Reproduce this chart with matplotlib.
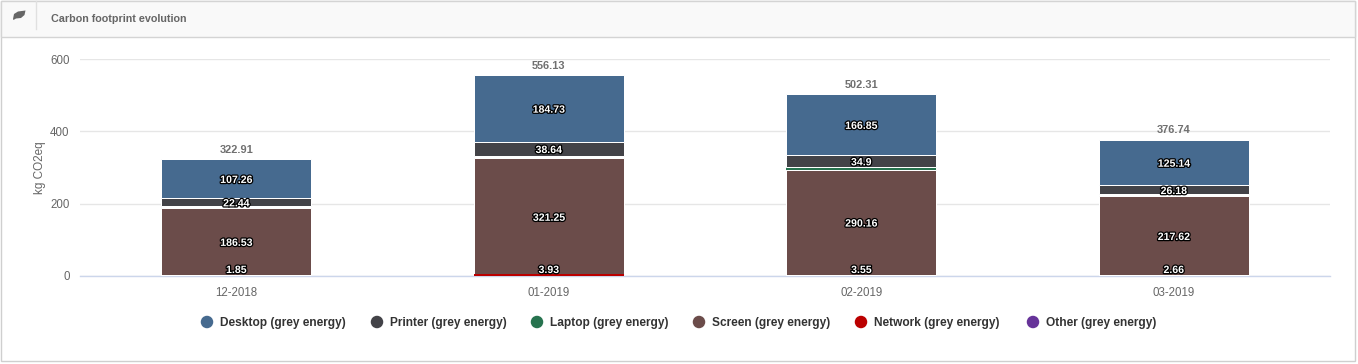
import matplotlib
matplotlib.use("Agg")
import matplotlib.patheffects as pe
import matplotlib.pyplot as plt
import numpy as np
from matplotlib.patches import Ellipse, Polygon, Rectangle

W, H = 1358, 364

months = ["12-2018", "01-2019", "02-2019", "03-2019"]
network = [1.85, 3.93, 3.55, 2.66]
screen = [186.53, 321.25, 290.16, 217.62]
laptop = [4.83, 7.58, 6.85, 5.14]
printer = [22.44, 38.64, 34.9, 26.18]
desktop = [107.26, 184.73, 166.85, 125.14]
totals = [322.91, 556.13, 502.31, 376.74]
legend_names = ["Desktop (grey energy)", "Printer (grey energy)", "Laptop (grey energy)",
                "Screen (grey energy)", "Network (grey energy)", "Other (grey energy)"]
legend_colors = ["#466a8f", "#434348", "#27734f", "#6b4c4a", "#bb0000", "#663399"]
legend_dot_x = [207, 377, 537, 699, 861, 1033]

plt.rcParams["font.family"] = ["Liberation Sans", "DejaVu Sans"]

fig = plt.figure(figsize=(W / 100, H / 100), dpi=100, facecolor="white")


def fx(px):
    return px / W


def fy(py):
    return 1 - py / H


# panel frame and header
fig.add_artist(Rectangle((fx(1), fy(361)), fx(1354), 360 / H, transform=fig.transFigure,
                         facecolor="white", edgecolor="#cfcfcf", linewidth=1, zorder=-3))
fig.add_artist(Rectangle((fx(1), fy(36.5)), fx(1354), 35.5 / H, transform=fig.transFigure,
                         facecolor="#f9f9f9", edgecolor="#d4d4d4", linewidth=1, zorder=-2))
fig.add_artist(plt.Line2D([fx(35.5), fx(35.5)], [fy(1), fy(29)], color="#e0e0e0", linewidth=1))
leaf = [(13, 19), (14, 14), (18, 11.5), (25.5, 10.5), (24.5, 15), (21, 18), (16, 18.5), (13.5, 20)]
fig.add_artist(Polygon([(fx(a), fy(b)) for a, b in leaf], closed=True, transform=fig.transFigure,
                       facecolor="#666666", edgecolor="none"))
fig.text(fx(51.5), fy(18.5), "Carbon footprint evolution", fontsize=7.75, fontweight="bold",
         color="#666666", va="center", ha="left")

# plot area: y=0 just above 276 px, y=600 at 59 px
ax = fig.add_axes([fx(80), fy(275.8), fx(1250), 216.8 / H])
ax.set_xlim(-0.5, 3.5)
ax.set_ylim(0, 600)
ax.patch.set_alpha(0)
ax.set_yticks([0, 200, 400, 600])
ax.set_xticks(np.arange(4))
ax.set_xticklabels(months)
ax.tick_params(axis="both", length=0, labelsize=8.3, labelcolor="#666666")
ax.tick_params(axis="x", pad=8)
ax.tick_params(axis="y", pad=7.5)
ax.grid(axis="y", color="#e6e6e6", linewidth=1)
ax.set_axisbelow(True)
for s in ["top", "left", "right"]:
    ax.spines[s].set_visible(False)
ax.spines["bottom"].set_color("#ccd6eb")
ax.spines["bottom"].set_linewidth(1)
ax.set_ylabel("kg CO2eq", fontsize=8.5, color="#666666", labelpad=3)

x = np.arange(4)
bar_w = 150 / (1250 / 4)
# thin segments collapse into their white borders in the reference
series = [(network, ["white", "#bb0000", "white", "white"], 0, 3.5),
          (screen, ["#6b4c4a"] * 4, 0.72, 3),
          (laptop, ["white", "white", "#27734f", "white"], 0, 3),
          (printer, ["#434348"] * 4, 0.72, 3),
          (desktop, ["#466a8f"] * 4, 0.72, 3)]
halo = [pe.withStroke(linewidth=1.8, foreground="black")]
bottom = np.zeros(4)
for vals, colors, lw, z in series:
    ax.bar(x, vals, bar_w, bottom=bottom, color=colors, edgecolor="white", linewidth=lw, zorder=z)
    if vals is not laptop:
        for i, v in enumerate(vals):
            ax.text(i, max(bottom[i] + v / 2 - 4, 16), f"{v:g}", color="white", fontsize=7.6,
                    fontweight="bold", ha="center", va="center", zorder=5, path_effects=halo,
                    clip_on=False)
    bottom = bottom + np.array(vals)

for i, t in enumerate(totals):
    ax.text(i, t + 12, f"{t:g}", color="#707070", fontsize=7.9, fontweight="bold",
            ha="center", va="bottom", zorder=5)

# legend
for name, color, px in zip(legend_names, legend_colors, legend_dot_x):
    fig.add_artist(Ellipse((fx(px), fy(322)), fx(12.5), 12.5 / H, transform=fig.transFigure,
                           facecolor=color, edgecolor="none"))
    fig.text(fx(px + 13), fy(322.8), name, fontsize=8.6, fontweight="bold", color="#333333",
             va="center", ha="left")

fig.savefig("out.png", dpi=100)
